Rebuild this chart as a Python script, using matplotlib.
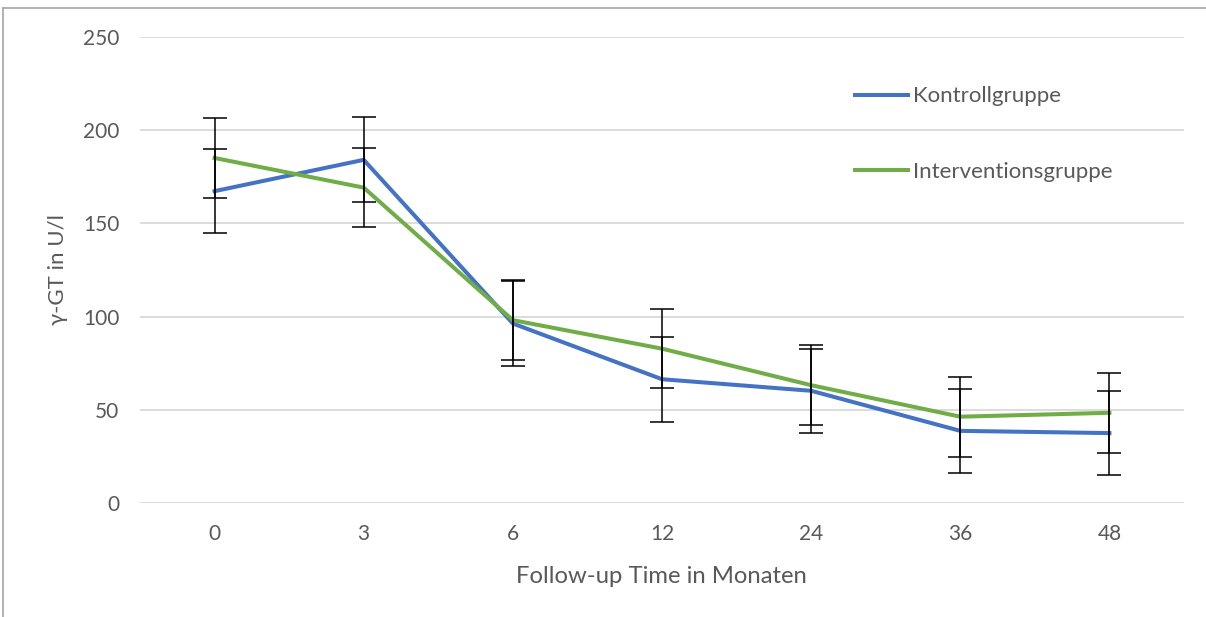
import matplotlib.pyplot as plt
from matplotlib.lines import Line2D

# Follow-up Zeitpunkte (Monate) und Mittelwerte gamma-GT
monate = ["0", "3", "6", "12", "24", "36", "48"]
kontrolle = [167.3, 184.1, 96.3, 66.4, 60.2, 38.7, 37.5]
kontrolle_err = [22.7, 22.8, 22.8, 22.7, 22.6, 22.6, 22.6]
intervention = [185.1, 169.2, 98.1, 82.8, 63.2, 46.3, 48.4]
intervention_err = [21.3, 21.3, 21.4, 21.3, 21.4, 21.4, 21.4]

BLAU = "#4472C4"
GRUEN = "#70AD47"
GRAU_TXT = "#595959"
GRAU_GRID = "#D9D9D9"

plt.rcParams["font.family"] = ["Lato", "DejaVu Sans"]

fig = plt.figure(figsize=(12.06, 6.17), dpi=100)
ax = fig.add_axes([140 / 1206, 1 - 503 / 617, 1044 / 1206, 466 / 617])

x = list(range(len(monate)))
ax.plot(x, kontrolle, color=BLAU, lw=2.9, label="Kontrollgruppe", zorder=3)
ax.plot(x, intervention, color=GRUEN, lw=2.9, label="Interventionsgruppe", zorder=3)
ax.errorbar(x, kontrolle, yerr=kontrolle_err, fmt="none", ecolor="black",
            elinewidth=1.1, capsize=8.5, capthick=1.1, zorder=4)
ax.errorbar(x, intervention, yerr=intervention_err, fmt="none", ecolor="black",
            elinewidth=1.1, capsize=8.5, capthick=1.1, zorder=4)

ax.set_xlim(-0.5, len(monate) - 0.5)
ax.set_ylim(0, 250)
ax.set_yticks([0, 50, 100, 150, 200, 250])
ax.set_xticks(x)
ax.set_xticklabels(monate)
ax.grid(axis="y", color=GRAU_GRID, lw=1.3)
ax.set_axisbelow(True)
for s in ax.spines.values():
    s.set_visible(False)
ax.tick_params(length=0, labelsize=15, colors=GRAU_TXT)
ax.tick_params(axis="x", pad=15)
ax.tick_params(axis="y", pad=15)

ax.set_xlabel("Follow-up Time in Monaten", fontsize=17.2, color=GRAU_TXT)
ax.xaxis.set_label_coords(0.499, -0.136)
ax.set_ylabel("γ-GT in U/l", fontsize=16, color=GRAU_TXT)
ax.yaxis.set_label_coords(-0.069, 0.5)

ax.legend(loc="upper left", bbox_to_anchor=(0.685, 0.894), frameon=False,
          fontsize=16, handlelength=2.4, handletextpad=0.22, labelspacing=2.5,
          borderpad=0, borderaxespad=0, labelcolor=GRAU_TXT)

# Rahmen um das Diagramm
fig.add_artist(Line2D([3 / 1206, 1], [1 - 8 / 617] * 2, color="#A6A6A6", lw=1.2))
fig.add_artist(Line2D([3 / 1206] * 2, [0, 1 - 8 / 617], color="#A6A6A6", lw=1.2))

fig.savefig("out.png", dpi=100)
